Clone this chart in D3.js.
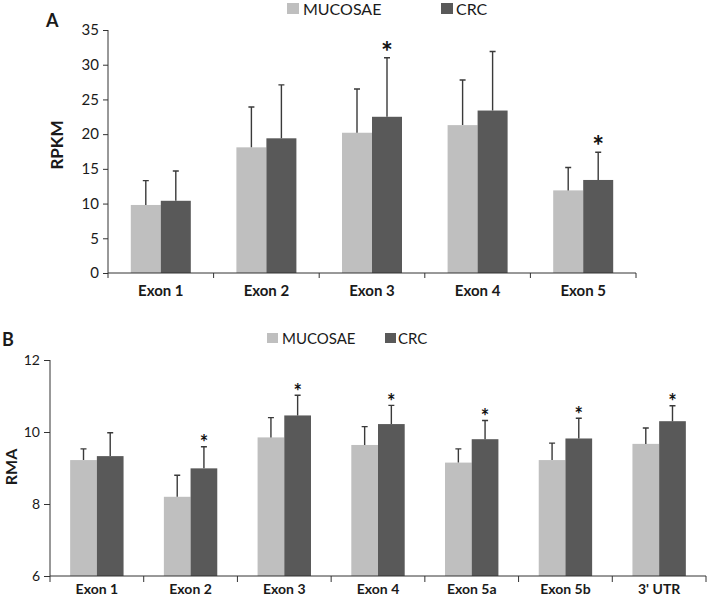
<!DOCTYPE html>
<html>
<head>
<meta charset="utf-8">
<script src="https://cdn.jsdelivr.net/npm/d3@7"></script>
<style>
  html, body { margin: 0; padding: 0; background: #fff; }
  svg { display: block; }
  text { font-family: Lato, "Open Sans", sans-serif; fill: #1a1a1a; }
  .star { opacity: 0.999; }
</style>
</head>
<body>
<svg id="chart" width="709" height="598"></svg>
<script>
// ---- Data ----
const seriesNames = ["MUCOSAE", "CRC"];

// Panel A (RPKM)
const catsA = ["Exon 1", "Exon 2", "Exon 3", "Exon 4", "Exon 5"];
const mucosaeA = [9.8, 18.1, 20.2, 21.3, 11.9];
const mucosaeErrA = [13.3, 23.9, 26.5, 27.8, 15.2];
const crcA = [10.4, 19.4, 22.5, 23.4, 13.4];
const crcErrA = [14.7, 27.1, 31.0, 31.9, 17.4];
const sigA = [false, false, true, false, true];
const ticksA = [0, 5, 10, 15, 20, 25, 30, 35];

// Panel B (RMA)
const catsB = ["Exon 1", "Exon 2", "Exon 3", "Exon 4", "Exon 5a", "Exon 5b", "3' UTR"];
const mucosaeB = [9.22, 8.20, 9.85, 9.64, 9.15, 9.22, 9.67];
const mucosaeErrB = [9.53, 8.80, 10.40, 10.15, 9.53, 9.69, 10.11];
const crcB = [9.33, 8.99, 10.46, 10.22, 9.80, 9.82, 10.30];
const crcErrB = [9.98, 9.59, 11.02, 10.74, 10.32, 10.38, 10.73];
const sigB = [false, true, true, true, true, true, true];
const ticksB = [6, 8, 10, 12];

const colors = ["#bfbfbf", "#595959"];
const axisColor = "#333333";
const errColor = "#3a3a3a";

const svg = d3.select("#chart");

function panel(cfg) {
  const g = svg.append("g");
  const x = d3.scaleBand().domain(cfg.cats).range([cfg.x0, cfg.x1]).paddingInner(0).paddingOuter(0);
  const y = d3.scaleLinear().domain(cfg.domain).range([cfg.yBottom, cfg.yTop]);
  const sub = d3.scaleBand().domain(seriesNames).range([0, cfg.barW * 2]);
  const groupOffset = (x.bandwidth() - cfg.barW * 2) / 2;

  const rows = cfg.cats.map((c, i) => ({
    cat: c,
    vals: [
      { s: seriesNames[0], v: cfg.muc[i], e: cfg.mucErr[i], i: 0 },
      { s: seriesNames[1], v: cfg.crc[i], e: cfg.crcErr[i], i: 1 }
    ],
    sig: cfg.sig[i]
  }));

  // bars
  const grp = g.selectAll("g.grp").data(rows).join("g")
    .attr("transform", d => `translate(${x(d.cat) + groupOffset},0)`);
  grp.selectAll("rect").data(d => d.vals).join("rect")
    .attr("x", d => sub(d.s))
    .attr("width", sub.bandwidth())
    .attr("y", d => y(d.v))
    .attr("height", d => y(cfg.domain[0]) - y(d.v))
    .attr("fill", d => colors[d.i]);

  // error bars (upper only)
  const capW = cfg.capW;
  grp.selectAll("path.err").data(d => d.vals).join("path")
    .attr("class", "err")
    .attr("d", d => {
      const cx = sub(d.s) + sub.bandwidth() / 2;
      return `M${cx},${y(d.v)}V${y(d.e)}M${cx - capW / 2},${y(d.e)}H${cx + capW / 2}`;
    })
    .attr("stroke", errColor).attr("stroke-width", 1.4).attr("fill", "none");

  // stars
  grp.filter(d => d.sig).append("text")
    .attr("class", "star")
    .attr("x", sub(seriesNames[1]) + sub.bandwidth() / 2)
    .attr("y", d => y(d.vals[1].e) - cfg.starGap)
    .attr("text-anchor", "middle")
    .attr("font-size", cfg.starSize)
    .attr("font-weight", "bold")
    .attr("font-family", "'Liberation Sans', Arial, sans-serif")
    .style("fill", "#111")
    .text("*");

  // y axis
  const yAxis = d3.axisLeft(y).tickValues(cfg.ticks).tickFormat(d3.format("d"))
    .tickSize(cfg.tickLen).tickPadding(4);
  const ya = g.append("g").attr("transform", `translate(${cfg.x0},0)`).call(yAxis);
  ya.select(".domain").attr("stroke", axisColor).attr("d", `M0,${cfg.yTop}V${cfg.yBottom}`);
  ya.selectAll(".tick line").attr("stroke", axisColor);
  ya.selectAll(".tick text").attr("font-size", cfg.tickFont).attr("font-family", "Lato, sans-serif").attr("fill", "#1a1a1a");

  // x axis line + boundary ticks
  g.append("line").attr("x1", cfg.x0).attr("x2", cfg.x1)
    .attr("y1", cfg.yBottom).attr("y2", cfg.yBottom).attr("stroke", axisColor);
  const bounds = cfg.cats.map(c => x(c)).concat([cfg.x1]);
  g.selectAll("line.xt").data(bounds).join("line")
    .attr("x1", d => d).attr("x2", d => d)
    .attr("y1", cfg.yBottom).attr("y2", cfg.yBottom + cfg.tickLen)
    .attr("stroke", axisColor);
  g.selectAll("text.xl").data(cfg.cats).join("text")
    .attr("x", d => x(d) + x.bandwidth() / 2)
    .attr("y", cfg.xLabelY)
    .attr("text-anchor", "middle")
    .attr("font-weight", "bold")
    .attr("font-size", cfg.xFont)
    .text(d => d);

  // y title
  g.append("text")
    .attr("transform", `translate(${cfg.yTitleX},${cfg.yTitleY}) rotate(-90)`)
    .attr("text-anchor", "middle")
    .attr("font-weight", "bold")
    .attr("font-size", cfg.yTitleFont)
    .text(cfg.yTitle);

  // panel letter
  g.append("text").attr("x", cfg.letterX).attr("y", cfg.letterY)
    .attr("font-family", "'Liberation Sans', Arial, sans-serif")
    .attr("font-weight", "bold").attr("font-size", 18).text(cfg.letter);

  // legend
  cfg.legend.forEach((L, i) => {
    g.append("rect").attr("x", L.sx).attr("y", L.sy).attr("width", L.sw).attr("height", L.sh).attr("fill", colors[i]);
    g.append("text").attr("x", L.tx).attr("y", L.ty).attr("font-size", cfg.legendFont).text(seriesNames[i]);
  });
}

panel({
  cats: catsA, muc: mucosaeA, mucErr: mucosaeErrA, crc: crcA, crcErr: crcErrA, sig: sigA,
  ticks: ticksA, domain: [0, 35],
  x0: 108, x1: 636, yTop: 30, yBottom: 273, barW: 30, capW: 6,
  tickLen: 5, tickFont: 15, xFont: 15, xLabelY: 296,
  starGap: -4, starSize: 28,
  yTitle: "RPKM", yTitleX: 63, yTitleY: 145, yTitleFont: 17,
  letter: "A", letterX: 46, letterY: 27,
  legendFont: 16,
  legend: [
    { sx: 287, sy: 3, sw: 12, sh: 11, tx: 303, ty: 15 },
    { sx: 441, sy: 3, sw: 12, sh: 11, tx: 456, ty: 15 }
  ]
});

panel({
  cats: catsB, muc: mucosaeB, mucErr: mucosaeErrB, crc: crcB, crcErr: crcErrB, sig: sigB,
  ticks: ticksB, domain: [6, 12],
  x0: 50, x1: 706, yTop: 360, yBottom: 576, barW: 26.7, capW: 6,
  tickLen: 6, tickFont: 14, xFont: 14, xLabelY: 594,
  starGap: -3.5, starSize: 20,
  yTitle: "RMA", yTitleX: 17, yTitleY: 467, yTitleFont: 16,
  letter: "B", letterX: 2, letterY: 346,
  legendFont: 15,
  legend: [
    { sx: 267, sy: 333, sw: 11, sh: 10, tx: 282, ty: 344 },
    { sx: 385, sy: 333, sw: 11, sh: 10, tx: 398, ty: 344 }
  ]
});
</script>
</body>
</html>
